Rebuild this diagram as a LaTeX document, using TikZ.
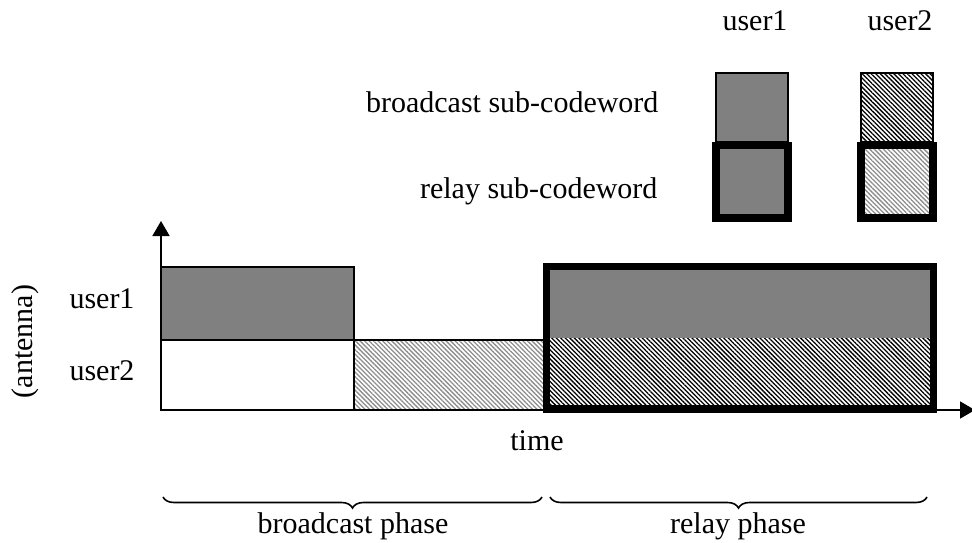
\documentclass[tikz,border=0pt]{standalone}
\usepackage{fontspec}
\setmainfont{Liberation Serif}
\usetikzlibrary{arrows.meta,patterns.meta,decorations.pathreplacing}

\definecolor{blockgray}{HTML}{808080}
\tikzset{
    thin line/.style={line width=1.6pt},
    heavy line/.style={line width=7.5pt},
    axis arrow/.style={-{Triangle[width=17pt,length=15pt]}},
    dark hatch/.style={pattern={Lines[angle=-45,distance=3.2pt,line width=1.3pt]},pattern color=black},
    light hatch/.style={pattern={Lines[angle=-45,distance=3.2pt,line width=1.3pt]},pattern color=black!45},
    label text/.style={font=\fontsize{30}{36}\selectfont}
}

\begin{document}
\begin{tikzpicture}[x=1pt,y=-1pt]
            \useasboundingbox (0,0) rectangle (972,542);

            \node[label text,anchor=base] (topuser1) at (755,30) {user1};
            \node[label text,anchor=base] (topuser2) at (900,30) {user2};
            \node[label text,anchor=base east] (bclabel) at (662,112) {broadcast sub-codeword};
            \node[label text,anchor=base east] (rllabel) at (661,198) {relay sub-codeword};

            \filldraw[thin line,fill=blockgray] (716,73) rectangle (788,142);
            \filldraw[heavy line,fill=blockgray] (716,145.5) rectangle (788,218);
            \draw[thin line,dark hatch] (861,73) rectangle (933,142);
            \draw[heavy line,light hatch] (861,145.5) rectangle (933,218);

            \filldraw[thin line,fill=blockgray] (161,267) rectangle (354,340);
            \draw[thin line] (161,340) rectangle (354,410);
            \draw[thin line,light hatch] (354,340) rectangle (546,410);

            \fill[blockgray] (546,266) rectangle (934,338);
            \fill[dark hatch] (546,338) rectangle (934,410);
            \draw[heavy line] (546.5,266.5) rectangle (933.5,409);

            \coordinate (origin) at (161,410);
            \coordinate (ytop) at (161,221);
            \coordinate (xend) at (975,410);
            \draw[thin line,axis arrow] (origin) -- (ytop);
            \draw[thin line,axis arrow] (origin) -- (xend);

            \node[label text,anchor=base] (user1) at (102,308) {user1};
            \node[label text,anchor=base] (user2) at (102,380) {user2};
            \node[label text,rotate=90] (antenna) at (25.5,341.5) {(antenna)};
            \node[label text,anchor=base] (time) at (537,450) {time};

            \draw[thin line,decorate,decoration={brace,mirror,amplitude=11pt}] (163,497) -- (542,497);
            \draw[thin line,decorate,decoration={brace,mirror,amplitude=11pt}] (550,497) -- (927,497);
            \node[label text,anchor=base] (bphase) at (353,533) {broadcast phase};
            \node[label text,anchor=base] (rphase) at (738,533) {relay phase};
        \end{tikzpicture}
\end{document}
